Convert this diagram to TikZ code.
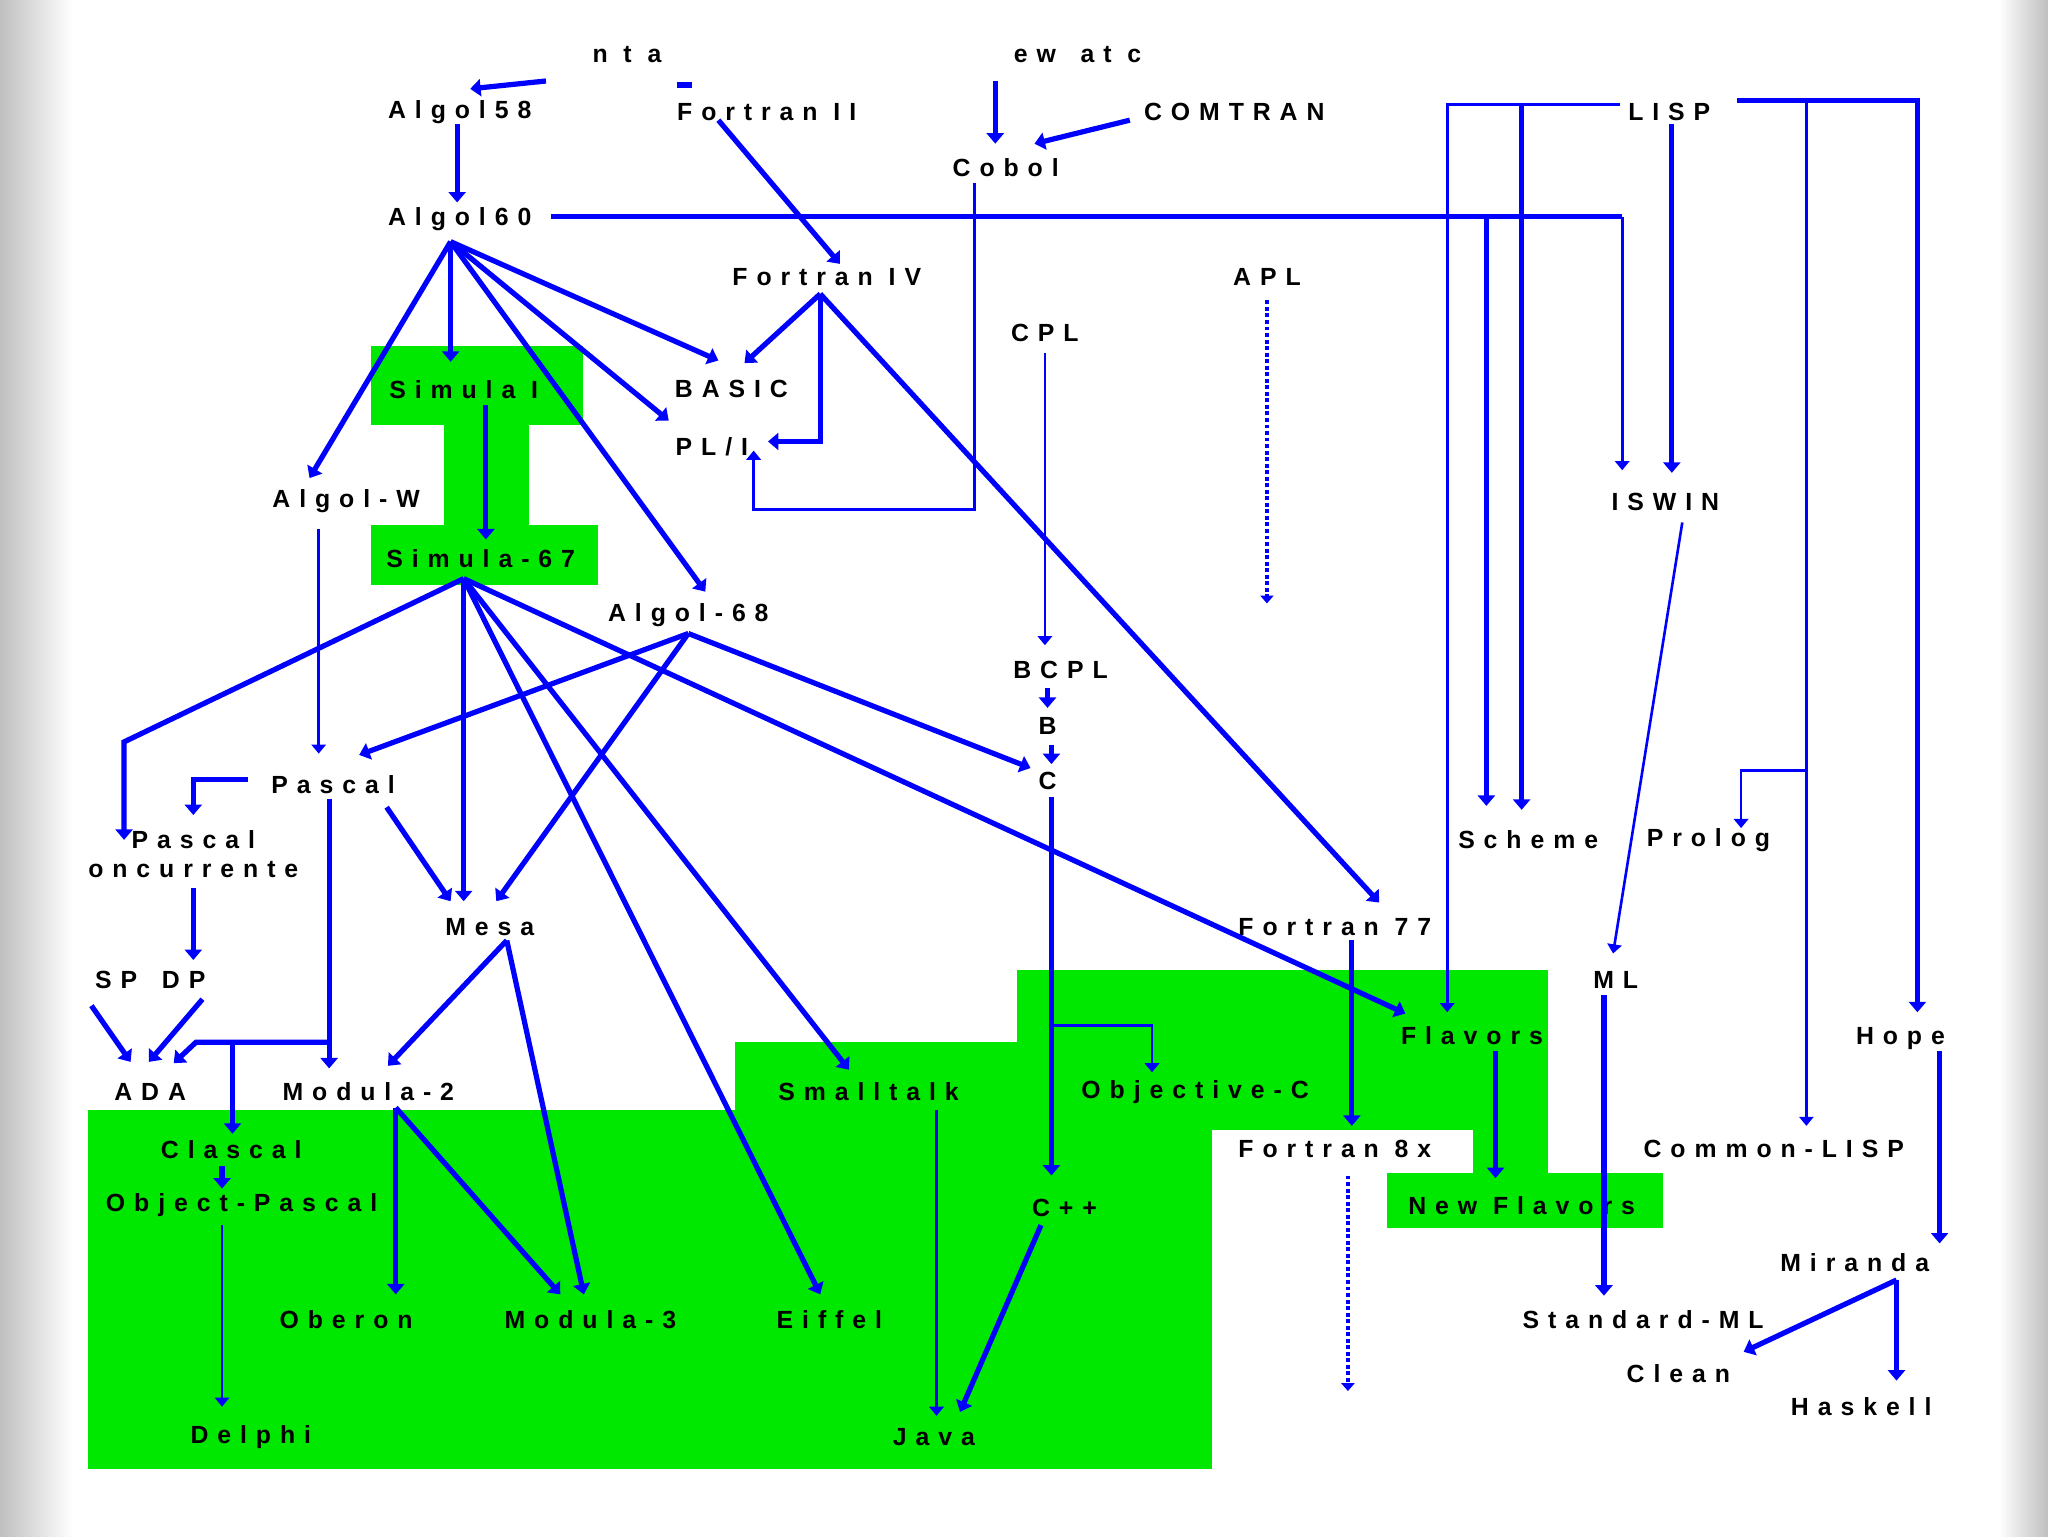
\documentclass[tikz,border=0pt]{standalone}
\usepackage{fontspec}
\setmainfont{Liberation Sans}
\usetikzlibrary{arrows.meta}
\definecolor{lb}{RGB}{0,0,255}
\definecolor{lg}{RGB}{0,232,0}
\begin{document}
\begin{tikzpicture}[x=1pt,y=-1pt,
  lab/.style={inner sep=1pt,font=\fontsize{19}{19}\selectfont\bfseries\addfontfeature{LetterSpace=36}},
  thk/.style={draw=lb,line width=4pt,-{Triangle[width=13pt,length=8pt]}},
  thn/.style={draw=lb,line width=2pt,-{Triangle[width=11pt,length=7pt]}},
  dsh/.style={draw=lb,line width=3pt,dotted,-{Triangle[width=10pt,length=6pt]}}]
\useasboundingbox (0,0) rectangle (1568,1176);
\shade[left color=black!25,right color=white] (0,0) rectangle (56,1176);
\shade[left color=white,right color=black!25] (1530,0) rectangle (1568,1176);
\fill[white] (56,0) rectangle (1530,1176);
\fill[lg] (284,265) rectangle (446,325);
\fill[lg] (340,325) rectangle (405,402);
\fill[lg] (284,402) rectangle (458,448);
\fill[lg] (67,850) rectangle (928,1125);
\fill[lg] (563,798) rectangle (928,850);
\fill[lg] (779,743) rectangle (1185,865);
\fill[lg] (1128,865) rectangle (1185,898);
\fill[lg] (1062,898) rectangle (1273,940);
% nodes
\node[lab] (nta) at (480,42) {n t a};
\node[lab] (ewa) at (825,42) {ew\quad at c};
\node[lab] (a58) at (352,86) {Algol58};
\node[lab] (f2) at (587,86) {Fortran II};
\node[lab] (com) at (945,86) {COMTRAN};
\node[lab] (cob) at (770,128) {Cobol};
\node[lab] (lisp) at (1278,86) {LISP};
\node[lab] (a60) at (352,168) {Algol60};
\node[lab] (f4) at (633,212) {Fortran IV};
\node[lab] (apl) at (970,212) {APL};
\node[lab] (cpl) at (800,255) {CPL};
\node[lab] (sim1) at (355,298) {Simula I};
\node[lab] (bas) at (560,298) {BASIC};
\node[lab] (pl1) at (545,342) {PL/I};
\node[lab] (aw) at (265,384) {Algol-W};
\node[lab] (isw) at (1275,384) {ISWIN};
\node[lab] (s67) at (368,428) {Simula-67};
\node[lab] (a68) at (527,471) {Algol-68};
\node[lab] (bcpl) at (812,513) {BCPL};
\node[lab] (b) at (802,556) {B};
\node[lab] (c) at (802,598) {C};
\node[lab] (pas) at (255,601) {Pascal};
\node[lab,align=center,font=\fontsize{19}{22}\selectfont\bfseries\addfontfeature{LetterSpace=36}] (pcon) at (148,654) {Pascal\\oncurrente};
\node[lab] (sch) at (1170,643) {Scheme};
\node[lab] (pro) at (1308,643) {Prolog};
\node[lab] (mesa) at (375,710) {Mesa};
\node[lab] (f77) at (1022,710) {Fortran 77};
\node[lab] (ml) at (1237,750) {ML};
\node[lab] (spdp) at (115,750) {SP\quad DP};
\node[lab] (ada) at (115,836) {ADA};
\node[lab] (m2) at (282,836) {Modula-2};
\node[lab] (st) at (665,836) {Smalltalk};
\node[lab] (objc) at (915,836) {Objective-C};
\node[lab] (fla) at (1127,793) {Flavors};
\node[lab] (hope) at (1455,795) {Hope};
\node[lab] (cla) at (177,880) {Clascal};
\node[lab] (f8x) at (1022,880) {Fortran 8x};
\node[lab] (cl) at (1358,880) {Common-LISP};
\node[lab] (op) at (185,923) {Object-Pascal};
\node[lab] (cpp) at (815,925) {C++};
\node[lab] (nf) at (1165,923) {New Flavors};
\node[lab] (mir) at (1420,967) {Miranda};
\node[lab] (obe) at (265,1010) {Oberon};
\node[lab] (m3) at (452,1010) {Modula-3};
\node[lab] (eif) at (635,1010) {Eiffel};
\node[lab] (sml) at (1258,1010) {Standard-ML};
\node[lab] (cle) at (1285,1052) {Clean};
\node[lab] (has) at (1425,1077) {Haskell};
\node[lab] (del) at (192,1100) {Delphi};
\node[lab] (jav) at (715,1100) {Java};
% connectors
\coordinate (p1) at (418,62);
\draw[thk] (p1) -- (360,68);
\draw[draw=lb,line width=5pt] (518,65) -- (530,65);
\draw[thk] (762,62) -- (762,110);
\draw[thk] (865,92) -- (792,110);
\draw[thk] (350,95) -- (350,155);
\draw[thk] (550,92) -- (643,202);
\draw[thn] (746,140) -- (746,390) -- (577,390) -- (577,345);
\draw[draw=lb,line width=4pt] (422,166) -- (1242,166);
\draw[thn] (1242,166) -- (1242,360);
\draw[thk] (1138,166) -- (1138,617);
\draw[thn] (1240,80) -- (1108,80) -- (1108,775);
\draw[thk] (1165,80) -- (1165,620);
\draw[thk] (1280,95) -- (1280,362);
\draw[thk] (1330,77) -- (1468,77) -- (1468,775);
\draw[thn] (1383,77) -- (1383,862);
\draw[thn] (1383,590) -- (1333,590) -- (1333,634);
\coordinate (a6) at (345,185);
\draw[thk] (a6) -- (345,277);
\draw[thk] (a6) -- (237,366);
\draw[thk] (a6) -- (550,276);
\draw[thk] (a6) -- (512,322);
\draw[thk] (a6) -- (540,453);
\coordinate (f4p) at (628,225);
\draw[thk] (f4p) -- (570,278);
\draw[thk] (f4p) -- (628,338) -- (588,338);
\draw[thk] (f4p) -- (1056,691);
\draw[thk] (372,310) -- (372,413);
\draw[thn] (244,405) -- (244,577);
\coordinate (s6) at (355,443);
\draw[thk] (s6) -- (95,568) -- (95,643);
\draw[thk] (s6) -- (355,690);
\draw[thk] (s6) -- (628,991);
\draw[thk] (s6) -- (650,819);
\draw[thk] (s6) -- (1076,776);
\coordinate (a6b) at (527,485);
\draw[thk] (a6b) -- (275,578);
\draw[thk] (a6b) -- (380,690);
\draw[thk] (a6b) -- (789,588);
\draw[thk] (190,597) -- (148,597) -- (148,624);
\draw[thk] (296,618) -- (345,690);
\draw[thk] (252,612) -- (252,818);
\draw[thk] (252,798) -- (150,798) -- (133,814);
\draw[thk] (178,798) -- (178,868);
\draw[thk] (148,680) -- (148,735);
\draw[thk] (70,770) -- (100,813);
\draw[thk] (155,765) -- (114,813);
\coordinate (me) at (388,720);
\draw[thk] (me) -- (297,816);
\draw[thk] (me) -- (447,991);
\coordinate (m2p) at (303,848);
\draw[thk] (m2p) -- (303,991);
\draw[thk] (m2p) -- (429,991);
\draw[thk] (170,893) -- (170,910);
\draw[thn] (170,938) -- (170,1077);
\draw[thn] (717,850) -- (717,1084);
\draw[thk] (797,938) -- (735,1081);
\draw[thk] (805,610) -- (805,900);
\draw[thn] (805,785) -- (882,785) -- (882,821);
\draw[thn] (800,270) -- (800,494);
\draw[thk] (802,527) -- (802,542);
\draw[thk] (805,570) -- (805,585);
\draw[dsh] (970,230) -- (970,462);
\draw[thk] (1035,720) -- (1035,862);
\draw[dsh] (1032,900) -- (1032,1065);
\draw[thk] (1145,805) -- (1145,902);
\draw[thn] (1288,400) -- (1235,730);
\draw[thk] (1228,762) -- (1228,992);
\draw[thk] (1485,805) -- (1485,952);
\coordinate (mi) at (1452,980);
\draw[thk] (mi) -- (1335,1035);
\draw[thk] (mi) -- (1452,1057);
\end{tikzpicture}
\end{document}
